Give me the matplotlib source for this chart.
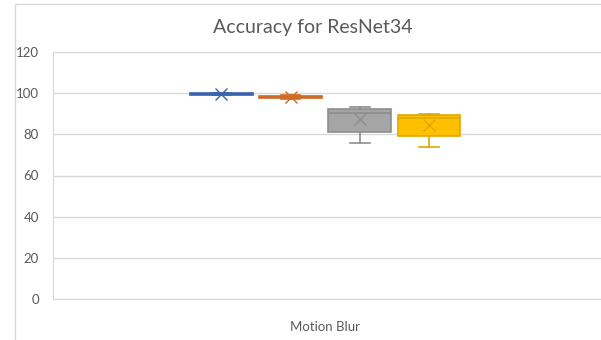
import matplotlib.pyplot as plt
from matplotlib.patches import Rectangle

plt.rcParams["font.family"] = ["Lato", "DejaVu Sans"]

# per-series box statistics (accuracy, %)
series = ["S1", "S2", "S3", "S4"]
whislo = [99.2, 97.0, 75.8, 73.7]
q1 = [99.3, 97.6, 81.1, 79.2]
med = [99.6, 98.0, 90.4, 88.0]
q3 = [99.9, 98.5, 92.3, 89.2]
whishi = [100.0, 99.0, 93.3, 90.0]
mean = [99.6, 98.1, 87.5, 84.5]
fill = ["#4472C4", "#ED7D31", "#A5A5A5", "#FFC000"]
edge = ["#3A64B0", "#D06A26", "#8E8E8E", "#E0A800"]
yticks = [0, 20, 40, 60, 80, 100, 120]

fig = plt.figure(figsize=(6.01, 3.40), dpi=100)
ax = fig.add_axes([53 / 601, 1 - 299 / 340, 548 / 601, 247 / 340])

# outer chart border
fig.patches.append(Rectangle((15 / 601, -0.1), 1.2, 1 - 4 / 340 + 0.1,
                             transform=fig.transFigure, fill=False,
                             edgecolor="#D9D9D9", lw=1))

stats = []
for i in range(len(series)):
    stats.append(dict(whislo=whislo[i], q1=q1[i], med=med[i], q3=q3[i],
                      whishi=whishi[i], mean=mean[i], label=series[i]))

for i, st in enumerate(stats):
    ax.bxp([st], positions=[i + 1], widths=0.91, patch_artist=True,
           showmeans=True, showfliers=False,
           boxprops=dict(facecolor=fill[i], edgecolor=edge[i], lw=1.2),
           medianprops=dict(color=edge[i], lw=1.2),
           whiskerprops=dict(color=edge[i], lw=1.2),
           capprops=dict(color=edge[i], lw=1.2),
           capwidths=0.28,
           meanprops=dict(marker="x", markeredgecolor=edge[i], markersize=9,
                          markeredgewidth=1.0))

ax.set_xlim(-1.435, 6.486)
ax.set_ylim(0, 120)
ax.set_yticks(yticks)
ax.set_xticks([2.5])
ax.set_xticklabels(["Motion Blur"])
ax.grid(axis="y", color="#D9D9D9", lw=1)
ax.set_axisbelow(True)
for s in ["top", "right"]:
    ax.spines[s].set_visible(False)
for s in ["left", "bottom"]:
    ax.spines[s].set_color("#D9D9D9")
ax.tick_params(length=0, colors="#595959", labelsize=9.5)
ax.tick_params(axis="x", pad=16)
ax.tick_params(axis="y", pad=10)
fig.text(313 / 601, 1 - 28 / 340, "Accuracy for ResNet34", fontsize=14,
         color="#595959", ha="center", va="center")

fig.savefig("out.png", dpi=100)
